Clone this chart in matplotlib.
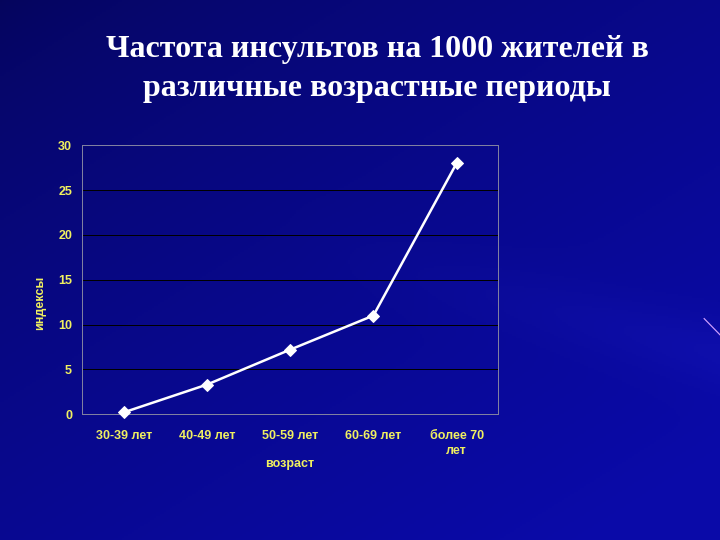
import numpy as np
import matplotlib
matplotlib.use("Agg")
import matplotlib.pyplot as plt
from matplotlib.lines import Line2D

categories = ["30-39 лет", "40-49 лет", "50-59 лет", "60-69 лет", "более 70\nлет"]
values = [0.2, 3.3, 7.2, 11.0, 28.0]
yticks = [0, 5, 10, 15, 20, 25, 30]
title = "Частота инсультов на 1000 жителей в\nразличные возрастные периоды"
xlabel = "возраст"
ylabel = "индексы"

fig = plt.figure(figsize=(10, 7.5), dpi=72)

# background gradient
bg = fig.add_axes([0, 0, 1, 1], zorder=-10)
h, w = 270, 360
yy, xx = np.mgrid[0:h, 0:w]
xn = xx / w
yn = yy / h
t = np.clip(0.5 * xn + 0.6 * yn, 0, 1) ** 0.7
streak = 0.06 * np.exp(-((yn - 0.55 - 0.35 * (xn - 0.7)) ** 2) / 0.004) * np.clip(xn - 0.4, 0, 1)
dark = np.array([0.02, 0.02, 0.36])
light = np.array([0.04, 0.04, 0.66])
img = dark[None, None, :] * (1 - t[..., None]) + light[None, None, :] * t[..., None]
img = img + streak[..., None] * np.array([0.5, 0.5, 1.0])
img = np.clip(img, 0, 1)
bg.imshow(img, aspect="auto", extent=[0, 1, 0, 1], origin="upper")
bg.set_axis_off()

fig.add_artist(Line2D([0.978, 1.0], [0.41, 0.38], color="#d0a0ff", lw=1.2))

fig.text(0.524, 0.872, title, ha="center", va="center", color="white",
         fontsize=32, fontweight="bold", family="Liberation Serif", linespacing=1.42)

ax = fig.add_axes([0.114, 0.233, 0.578, 0.498])
ax.set_facecolor("none")
x = np.arange(len(categories))
ax.plot(x, values, color="white", lw=2.5, marker="D", markersize=8,
        markerfacecolor="white", markeredgecolor="white", zorder=5, clip_on=False)
ax.set_xlim(-0.5, len(categories) - 0.5)
ax.set_ylim(0, 30)
ax.set_yticks(yticks)
ax.set_xticks(x)
ax.set_xticklabels(categories)
ax.yaxis.grid(True, color="black", lw=1)
ax.set_axisbelow(True)
for s in ax.spines.values():
    s.set_color("#8080a0")
    s.set_linewidth(1)
ax.tick_params(length=0)
ax.tick_params(axis="y", pad=10)
ax.tick_params(axis="x", pad=16)
for lbl in ax.get_xticklabels() + ax.get_yticklabels():
    lbl.set_color("#f0f060")
    lbl.set_fontweight("bold")
    lbl.set_family("Liberation Sans")
    lbl.set_fontsize(12.5)
    lbl.set_linespacing(1.35)
ax.set_xlabel(xlabel, color="#f0f060", fontweight="bold", family="Liberation Sans", fontsize=12.5, labelpad=1)
fig.text(0.056, 0.44, ylabel, rotation=90, ha="center", va="center", color="#f0f060",
         fontweight="bold", family="Liberation Sans", fontsize=12.5)

fig.savefig("out.png", dpi=72)
